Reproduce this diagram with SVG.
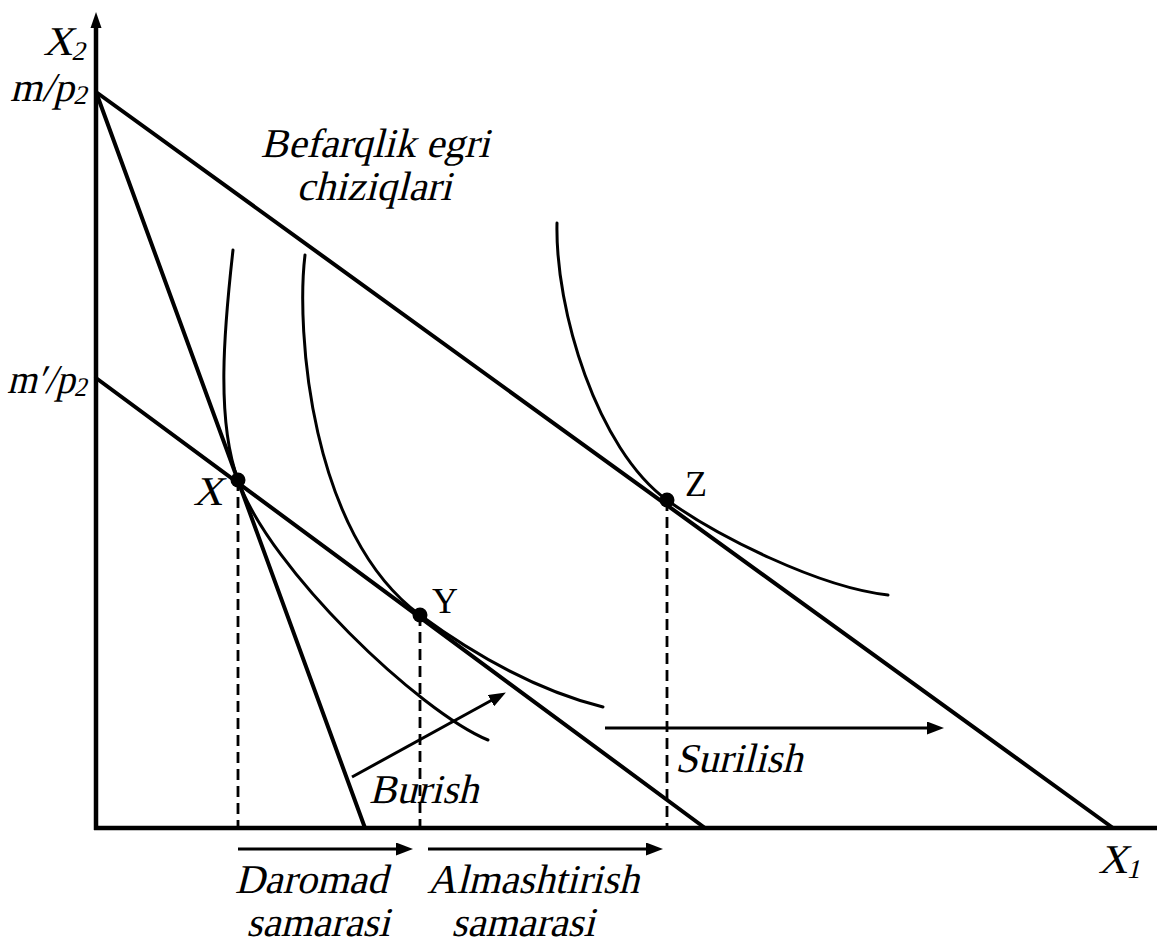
<svg xmlns="http://www.w3.org/2000/svg" width="1157" height="944" viewBox="0 0 1157 944">
<style>
.axis{stroke:#000;stroke-width:4.5;fill:none}
.bl{stroke:#000;stroke-width:4;fill:none;stroke-linecap:round}
.ic{stroke:#000;stroke-width:3;fill:none;stroke-linecap:round}
.dash{stroke:#000;stroke-width:2.8;stroke-dasharray:11 6;fill:none}
.arr{stroke:#000;stroke-width:3;fill:none}
.dot{fill:#000}
.t{font-family:"Liberation Serif",serif;font-size:41px;fill:#000}
.u{font-family:"Liberation Serif",serif;font-size:36px;fill:#000}
.sub{font-size:27px}
</style>
<defs>
<marker id="ah" markerUnits="userSpaceOnUse" markerWidth="17" markerHeight="13" refX="8" refY="6.5" orient="auto">
<path d="M0,0 L17,6.5 L0,13 z" fill="#000"/>
</marker>
</defs>
<g id="axes">
<line class="axis" x1="96" y1="830" x2="96" y2="24"/>
<polygon points="96,12 90.5,28 101.5,28" fill="#000"/>
<line class="axis" x1="94" y1="828" x2="1157" y2="828"/>
</g>
<g id="connectors">
<line id="budget-upper" class="bl" x1="96" y1="92" x2="1113" y2="828"/>
<line id="budget-steep" class="bl" x1="96" y1="92" x2="365" y2="828"/>
<line id="budget-lower" class="bl" x1="96" y1="378" x2="705" y2="828"/>
<path id="curve1" class="ic" d="M233,250 C224,330 216,420 238,480 C270,570 420,712 488,740"/>
<path id="curve2" class="ic" d="M305,255 C296,330 310,534 420,615 C480,659 543,692 603,707"/>
<path id="curve3" class="ic" d="M557,223 C555,310 597,449 667,500 C717,536 818,587 888,595"/>
<line class="dash" x1="238" y1="480" x2="238" y2="828"/>
<line class="dash" x1="420" y1="615" x2="420" y2="828"/>
<line class="dash" x1="667" y1="500" x2="667" y2="828"/>
<line class="arr" x1="352" y1="777" x2="498" y2="696.8" marker-end="url(#ah)"/>
<line class="arr" x1="605" y1="728" x2="935" y2="728" marker-end="url(#ah)"/>
<line class="arr" x1="238" y1="849" x2="404" y2="849" marker-end="url(#ah)"/>
<line class="arr" x1="428" y1="849" x2="654" y2="849" marker-end="url(#ah)"/>
</g>
<g id="point-X"><circle class="dot" cx="238" cy="480" r="7.5"/><text class="t" transform="translate(193,505) skewX(-14)" font-size="37">X</text></g>
<g id="point-Y"><circle class="dot" cx="420" cy="615" r="7.5"/><text class="u" x="432" y="613">Y</text></g>
<g id="point-Z"><circle class="dot" cx="667" cy="500" r="7.5"/><text class="u" x="685" y="496">Z</text></g>
<g id="label-X2"><text class="t" transform="translate(43,55) skewX(-14)">X<tspan class="sub" dy="5">2</tspan></text></g>
<g id="label-mp2"><text class="t" transform="translate(10,101) skewX(-14)" font-size="39">m/p<tspan class="sub" dy="3">2</tspan></text></g>
<g id="label-m2p2"><text class="t" transform="translate(7,393) skewX(-14)" font-size="37" textLength="80" lengthAdjust="spacingAndGlyphs">m′/p<tspan class="sub" font-size="25" dy="3">2</tspan></text></g>
<g id="label-X1"><text class="t" transform="translate(1098,873) skewX(-14)">X<tspan class="sub" dy="5">1</tspan></text></g>
<g id="label-befarqlik"><text class="t" transform="translate(375,157) skewX(-14)" text-anchor="middle">Befarqlik egri</text><text class="t" transform="translate(374,200) skewX(-14)" text-anchor="middle">chiziqlari</text></g>
<g id="label-burish"><text class="t" transform="translate(369,803) skewX(-14)">Burish</text></g>
<g id="label-surilish"><text class="t" transform="translate(675,772) skewX(-14)">Surilish</text></g>
<g id="label-daromad"><text class="t" transform="translate(311,893) skewX(-14)" text-anchor="middle">Daromad</text><text class="t" transform="translate(318,936) skewX(-14)" text-anchor="middle">samarasi</text></g>
<g id="label-almashtirish"><text class="t" transform="translate(533,893) skewX(-14)" text-anchor="middle">Almashtirish</text><text class="t" transform="translate(523,936) skewX(-14)" text-anchor="middle">samarasi</text></g>
</svg>
